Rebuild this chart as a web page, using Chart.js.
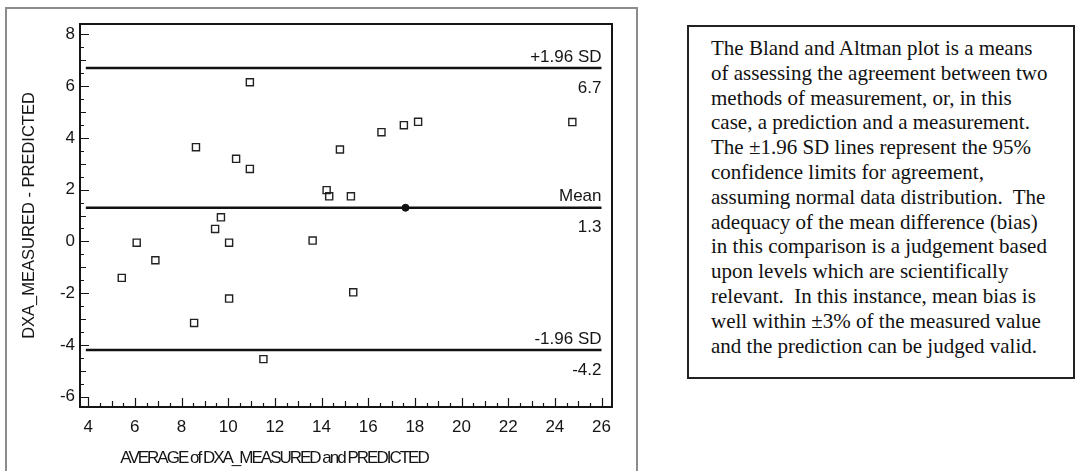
<!DOCTYPE html>
<html>
<head>
<meta charset="utf-8">
<script src="https://cdn.jsdelivr.net/npm/chart.js@4.4.1/dist/chart.umd.min.js"></script>
<style>
  body { margin: 0; background: #fff; width: 1078px; height: 471px; overflow: hidden; position: relative; }
  #frame { position: absolute; left: 5px; top: 7px; width: 633px; height: 480px; border: 2px solid #8c8c8c; box-sizing: border-box; }
  #wrap { position: absolute; left: 0; top: 0; width: 660px; height: 471px; }
  #note {
    position: absolute; left: 687px; top: 25px; width: 388px; height: 354px;
    border: 2px solid #222; box-sizing: border-box; padding: 9px 0 0 22px;
    font-family: 'Liberation Serif', 'Times New Roman', serif; font-size: 21px; line-height: 24.8px;
    color: #111; white-space: nowrap;
  }
</style>
</head>
<body>
<div id="frame"></div>
<div id="wrap"><canvas id="chart" width="660" height="471"></canvas></div>
<div id="note">
The Bland and Altman plot is a means<br>
of assessing the agreement between two<br>
methods of measurement, or, in this<br>
case, a prediction and a measurement.<br>
The &plusmn;1.96 SD lines represent the 95%<br>
confidence limits for agreement,<br>
assuming normal data distribution.&nbsp; The<br>
adequacy of the mean difference (bias)<br>
in this comparison is a judgement based<br>
upon levels which are scientifically<br>
relevant.&nbsp; In this instance, mean bias is<br>
well within &plusmn;3% of the measured value<br>
and the prediction can be judged valid.
</div>
<script>
// Average of the two methods (x) and their difference (y), one entry per subject
const avgValues  = [10.93, 8.62, 10.34, 10.93, 9.69, 9.44, 6.08, 10.04, 13.62, 5.44, 6.88, 10.04,
                    8.54, 11.51, 24.75, 18.14, 17.53, 16.57, 14.79, 14.22, 14.33, 15.26, 15.36];
const diffValues = [6.15, 3.64, 3.19, 2.8, 0.93, 0.48, -0.05, -0.05, 0.03, -1.41, -0.73, -2.21,
                    -3.15, -4.55, 4.61, 4.62, 4.49, 4.22, 3.55, 1.98, 1.74, 1.74, -1.97];

// Limits of agreement and mean bias
const limitNames  = ['+1.96 SD', 'Mean', '-1.96 SD'];
const limitValues = [6.7, 1.3, -4.2];
const limitText   = ['6.7', '1.3', '-4.2'];
const limitSpan   = [3.9, 26];

// Filled marker sitting on the mean line
const meanMarkerX = [17.6];

const FONT = "'Liberation Sans', Arial, sans-serif";
const INK = '#151515';

// Frame, inward tick marks, line labels and the x title
const decorPlugin = {
    id: 'decor',
    afterDraw(chart) {
        const ctx = chart.ctx;
        const area = chart.chartArea;
        const xs = chart.scales.x;
        const ys = chart.scales.y;
        ctx.save();
        ctx.strokeStyle = INK;
        ctx.lineWidth = 2;
        ctx.strokeRect(area.left, area.top, area.right - area.left, area.bottom - area.top);

        // x ticks every 0.5, pointing up into the plot
        ctx.lineWidth = 1.2;
        ctx.beginPath();
        for (let v = 4; v <= 26.001; v += 0.5) {
            const px = Math.round(xs.getPixelForValue(v)) + 0.5;
            let len = 4;
            if (Math.abs(v % 2) < 1e-6) len = 9;
            else if (Math.abs(v % 1) < 1e-6) len = 6;
            ctx.moveTo(px, area.bottom);
            ctx.lineTo(px, area.bottom - len);
        }
        // y ticks every 0.5, pointing right
        for (let v = -6; v <= 8.001; v += 0.5) {
            const py = Math.round(ys.getPixelForValue(v)) + 0.5;
            let len = 4;
            if (Math.abs(v % 2) < 1e-6) len = 9;
            else if (Math.abs(v % 1) < 1e-6) len = 6;
            ctx.moveTo(area.left, py);
            ctx.lineTo(area.left + len, py);
        }
        ctx.stroke();

        // labels above / values below each horizontal line
        ctx.fillStyle = INK;
        ctx.font = '17px ' + FONT;
        ctx.textAlign = 'right';
        ctx.textBaseline = 'middle';
        const rx = xs.getPixelForValue(limitSpan[1]);
        limitValues.forEach((val, i) => {
            const py = ys.getPixelForValue(val);
            ctx.fillText(limitNames[i], rx, py - 11);
            ctx.fillText(limitText[i], rx, py + 20);
        });

        // condensed x-axis title
        ctx.font = '17px ' + FONT;
        ctx.letterSpacing = '-2px';
        ctx.textAlign = 'center';
        ctx.fillText('AVERAGE of DXA_MEASURED and PREDICTED', (area.left + area.right) / 2 - 72, 458);
        ctx.restore();
    }
};

const ctx = document.getElementById('chart').getContext('2d');

const chart = new Chart(ctx, {
    type: 'scatter',
    data: {
        datasets: [
            {
                label: 'Difference',
                data: avgValues.map((x, i) => ({ x: x, y: diffValues[i] })),
                pointStyle: 'rect',
                pointRadius: 5,
                borderColor: '#222',
                borderWidth: 1.4,
                backgroundColor: 'rgba(255,255,255,0)'
            },
            {
                label: 'Mean marker',
                data: meanMarkerX.map(x => ({ x: x, y: limitValues[1] })),
                pointStyle: 'circle',
                pointRadius: 3.5,
                borderColor: '#111',
                backgroundColor: '#111'
            },
            ...limitValues.map((val, i) => ({
                type: 'line',
                label: limitNames[i],
                data: limitSpan.map(x => ({ x: x, y: val })),
                borderColor: '#111',
                borderWidth: 2.5,
                pointRadius: 0,
                fill: false
            }))
        ]
    },
    options: {
        responsive: false,
        animation: false,
        layout: { padding: { left: 0, top: 24, right: 48, bottom: 0 } },
        plugins: {
            legend: { display: false },
            tooltip: { enabled: false }
        },
        scales: {
            x: {
                type: 'linear',
                min: 3.65,
                max: 26.45,
                grid: { display: false, drawTicks: false },
                border: { display: false },
                ticks: {
                    stepSize: 2,
                    includeBounds: false,
                    padding: 10,
                    color: INK,
                    font: { family: FONT, size: 17 }
                },
                afterFit(scale) { scale.height = 64; }
            },
            y: {
                type: 'linear',
                min: -6.4,
                max: 8.4,
                grid: { display: false, drawTicks: false },
                border: { display: false },
                ticks: {
                    stepSize: 2,
                    includeBounds: false,
                    padding: 5,
                    color: INK,
                    font: { family: FONT, size: 17 }
                },
                title: {
                    display: true,
                    text: 'DXA_MEASURED - PREDICTED',
                    color: INK,
                    font: { family: FONT, size: 16.5 },
                    padding: { top: 20, bottom: 0 }
                },
                afterFit(scale) { scale.width = 80; }
            }
        }
    },
    plugins: [decorPlugin]
});
</script>
</body>
</html>
